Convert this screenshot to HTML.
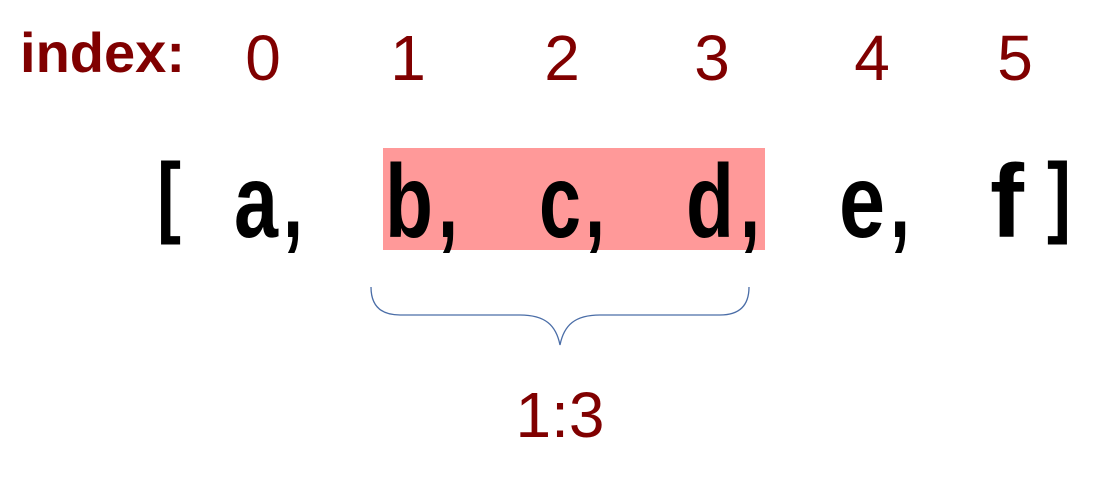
<!DOCTYPE html>
<html>
<head>
<meta charset="utf-8">
<style>
html,body{margin:0;padding:0;background:#fff;}
svg{display:block;}
.idx{font-family:"Liberation Sans","DejaVu Sans",sans-serif;fill:#800000;font-size:64px;}
.lab{font-family:"Liberation Sans","DejaVu Sans",sans-serif;fill:#800000;font-size:56px;font-weight:bold;}
.el{font-family:"Liberation Sans","DejaVu Sans",sans-serif;fill:#000;font-size:104px;font-weight:bold;}
.br{font-family:"Liberation Sans","DejaVu Sans",sans-serif;fill:#000;font-size:90px;font-weight:bold;}
</style>
</head>
<body>
<svg width="1099" height="488" viewBox="0 0 1099 488">
  <rect x="383" y="148" width="382" height="102" fill="#ff9999"/>
  <text class="lab" x="20" y="72" textLength="165" lengthAdjust="spacingAndGlyphs">index:</text>
  <g>
    <text class="idx" x="263" y="80" text-anchor="middle">0</text>
    <text class="idx" x="408" y="80" text-anchor="middle">1</text>
    <text class="idx" x="562" y="80" text-anchor="middle">2</text>
    <text class="idx" x="712" y="80" text-anchor="middle">3</text>
    <text class="idx" x="872" y="80" text-anchor="middle">4</text>
    <text class="idx" x="1015" y="80" text-anchor="middle">5</text>
  </g>
  <g>
    <text class="br" x="157" y="226" textLength="24" lengthAdjust="spacingAndGlyphs">[</text>
    <text class="el" x="234" y="237" textLength="44" lengthAdjust="spacingAndGlyphs">a</text>
    <text class="el" x="283" y="237" textLength="20" lengthAdjust="spacingAndGlyphs">,</text>
    <text class="el" x="385" y="237" textLength="48" lengthAdjust="spacingAndGlyphs">b</text>
    <text class="el" x="438" y="237" textLength="20" lengthAdjust="spacingAndGlyphs">,</text>
    <text class="el" x="539" y="237" textLength="42" lengthAdjust="spacingAndGlyphs">c</text>
    <text class="el" x="585" y="237" textLength="20" lengthAdjust="spacingAndGlyphs">,</text>
    <text class="el" x="686" y="237" textLength="48" lengthAdjust="spacingAndGlyphs">d</text>
    <text class="el" x="740" y="237" textLength="20" lengthAdjust="spacingAndGlyphs">,</text>
    <text class="el" x="839" y="237" textLength="46" lengthAdjust="spacingAndGlyphs">e</text>
    <text class="el" x="890" y="237" textLength="20" lengthAdjust="spacingAndGlyphs">,</text>
    <text class="el" x="990" y="237" textLength="34" lengthAdjust="spacingAndGlyphs">f</text>
    <text class="br" x="1047" y="226" textLength="24" lengthAdjust="spacingAndGlyphs">]</text>
  </g>
  <path d="M371,287 C371,305 380,315 400,315 L520,315 C545,315 556,325 560,345 C564,325 575,315 600,315 L720,315 C740,315 749,305 749,287" fill="none" stroke="#4a6da7" stroke-width="1.3"/>
  <text class="idx" x="560" y="437" text-anchor="middle">1:3</text>
</svg>
</body>
</html>
